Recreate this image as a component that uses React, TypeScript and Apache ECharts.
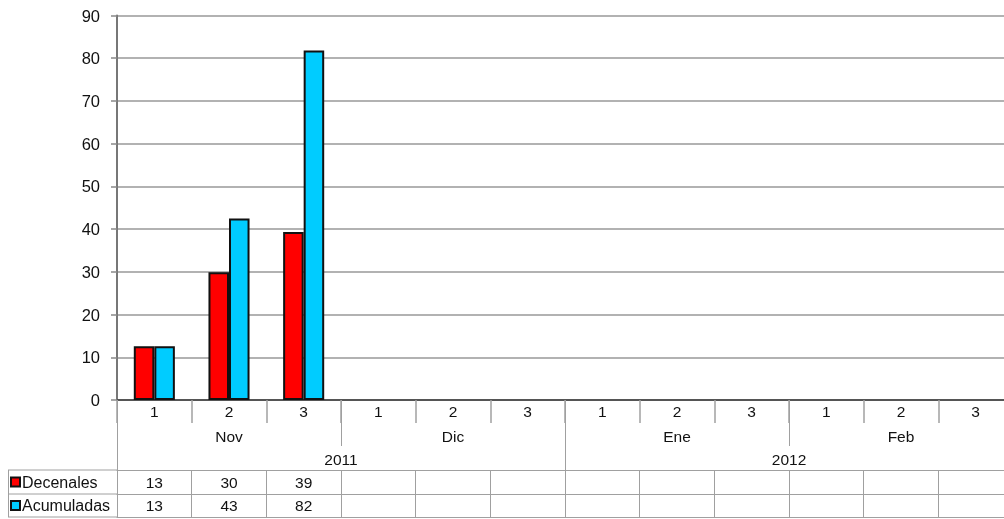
import React, { useEffect, useRef } from "react";
import * as echarts from "echarts";

const decades = ["1", "2", "3"];
const months = ["Nov", "Dic", "Ene", "Feb"];
const years = ["2011", "2012"];
const seriesNames = ["Decenales", "Acumuladas"];
const decenales: (number | null)[] = [12.6, 29.9, 39.3, null, null, null, null, null, null, null, null, null];
const acumuladas: (number | null)[] = [12.6, 42.5, 81.8, null, null, null, null, null, null, null, null, null];
const yTicks = { min: 0, max: 90, interval: 10 };

const categories = months.flatMap((m) => decades.map((d) => d));
const fmt = (v: number | null) => (v == null ? "" : String(Math.round(v)));

const FONT = "Liberation Sans, Arial, sans-serif";
const TXT = "#111";
const TBL = "#a0a0a0";

export default function App() {
  const ref = useRef<HTMLDivElement>(null);
  useEffect(() => {
    if (!ref.current) return;
    const chart = echarts.init(ref.current, undefined, { renderer: "svg" });
    const tableAxis = (data: string[], offset: number, tickLen: number, margin: number, showLabel = true, showTick = true) => ({
      type: "category",
      position: "bottom",
      offset,
      data,
      boundaryGap: true,
      axisLine: { show: true, lineStyle: { color: TBL, width: 1 } },
      axisTick: { show: showTick, interval: 0, length: tickLen, lineStyle: { color: TBL, width: 1 } },
      axisLabel: { show: showLabel, interval: 0, margin, verticalAlign: "middle", fontSize: 15.5, color: TXT, fontFamily: FONT },
      splitLine: { show: false },
    });
    chart.setOption({
      animation: false,
      textStyle: { fontFamily: FONT },
      grid: { left: 117, top: 15.5, width: 896, bottom: 119, containLabel: false, outerBoundsMode: "none" },
      legend: {
        orient: "vertical",
        left: 10,
        top: 474,
        padding: 0,
        itemWidth: 9,
        itemHeight: 9,
        itemGap: 7.5,
        icon: "rect",
        textStyle: { fontSize: 16, color: TXT, fontFamily: FONT, lineHeight: 16, padding: [0, 0, 0, -3] },
        data: seriesNames,
      },
      yAxis: {
        type: "value",
        min: yTicks.min,
        max: yTicks.max,
        interval: yTicks.interval,
        axisLine: { show: true, lineStyle: { color: "#777", width: 2 } },
        axisTick: { show: true, length: 6, lineStyle: { color: "#888", width: 1.5 } },
        axisLabel: { fontSize: 16.5, color: TXT, margin: 17, fontFamily: FONT },
        splitLine: { show: true, lineStyle: { color: "#999", width: 1.5 } },
      },
      xAxis: [
        {
          type: "category",
          position: "bottom",
          data: categories,
          boundaryGap: true,
          axisLine: { show: true, lineStyle: { color: "#555", width: 2 } },
          axisTick: { show: true, interval: 0, length: 23, lineStyle: { color: TBL, width: 1.5 } },
          axisLabel: { interval: 0, margin: 11, verticalAlign: "middle", fontSize: 15.5, color: TXT, fontFamily: FONT },
        },
        { ...tableAxis(months, 0, 46, 36), axisLine: { show: false } },
        { ...tableAxis(years, 0, 70, 59), axisLine: { show: false } },
        tableAxis(decenales.map(fmt), 70, 24, 12),
        tableAxis(acumuladas.map(fmt), 94, 23, 11.5),
        tableAxis(categories, 117, 0, 0, false, false),
      ],
      graphic: [
        { type: "line", shape: { x1: 8, y1: 470, x2: 117, y2: 470 }, style: { stroke: TBL, lineWidth: 1 } },
        { type: "line", shape: { x1: 8, y1: 494, x2: 117, y2: 494 }, style: { stroke: TBL, lineWidth: 1 } },
        { type: "line", shape: { x1: 8, y1: 517, x2: 117, y2: 517 }, style: { stroke: TBL, lineWidth: 1 } },
        { type: "line", shape: { x1: 8.5, y1: 470, x2: 8.5, y2: 517 }, style: { stroke: TBL, lineWidth: 1 } },
      ],
      series: [
        {
          name: seriesNames[0],
          type: "bar",
          data: decenales,
          barWidth: "27.5%",
          barGap: "0%",
          itemStyle: { color: "#ff0000", borderColor: "#111", borderWidth: 2 },
        },
        {
          name: seriesNames[1],
          type: "bar",
          data: acumuladas,
          barWidth: "27.5%",
          barGap: "0%",
          itemStyle: { color: "#00ccff", borderColor: "#111", borderWidth: 2 },
        },
      ],
    });
    return () => chart.dispose();
  }, []);
  return <div ref={ref} style={{ position: "fixed", left: 0, top: 0, width: 1004, height: 519 }} />;
}
